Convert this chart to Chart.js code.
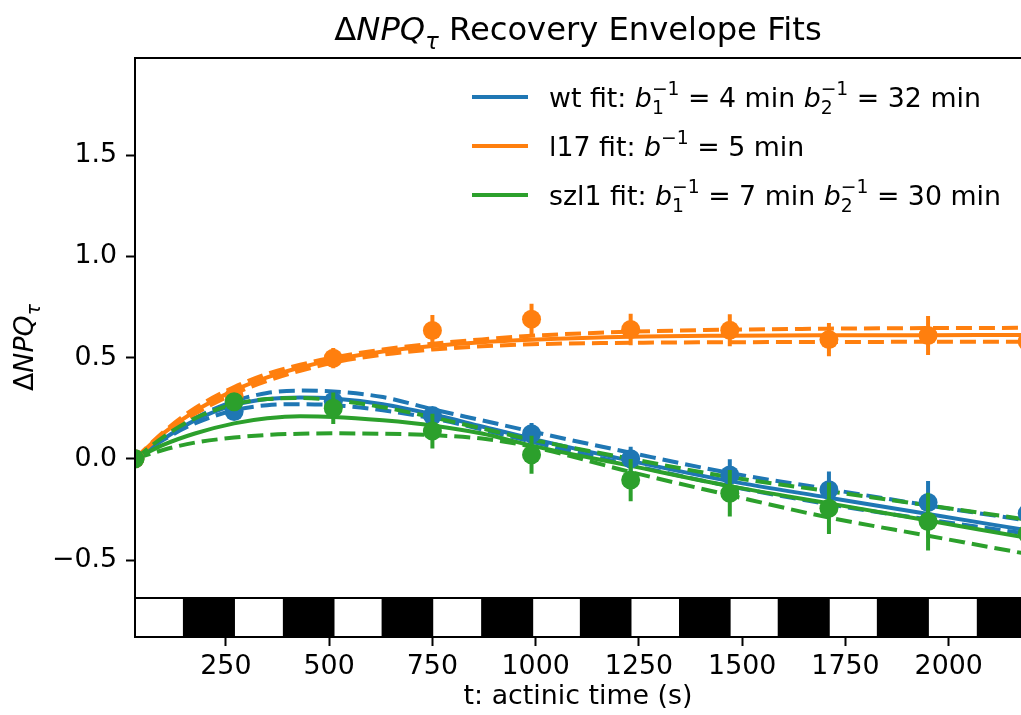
<!DOCTYPE html>
<html>
<head>
<meta charset="utf-8">
<script src="https://cdn.jsdelivr.net/npm/chart.js@4.4.1/dist/chart.umd.min.js"></script>
<style>
html, body { margin: 0; padding: 0; background: #fff; overflow: hidden; }
#wrap { width: 1021px; height: 715px; }
</style>
</head>
<body>
<div id="wrap"><canvas id="graphic"></canvas></div>
<script>
// measured points (t in s)
const tData = [30, 270, 510, 750, 990, 1230, 1470, 1710, 1950, 2190];
const wtMean = [0, 0.234, 0.285, 0.214, 0.124, 0.0, -0.08, -0.153, -0.216, -0.27];
const wtErr = [0, 0.03, 0.05, 0.04, 0.053, 0.06, 0.078, 0.09, 0.107, 0.11];
const l17Mean = [0, 0.31, 0.497, 0.634, 0.69, 0.639, 0.635, 0.589, 0.609, 0.58];
const l17Err = [0, 0.04, 0.05, 0.076, 0.076, 0.078, 0.079, 0.082, 0.096, 0.09];
const szl1Mean = [0, 0.282, 0.25, 0.137, 0.02, -0.105, -0.17, -0.244, -0.31, -0.37];
const szl1Err = [0, 0.03, 0.078, 0.086, 0.094, 0.104, 0.115, 0.127, 0.143, 0.15];

// fit curves and envelopes
const tFit = [30, 100, 175, 270, 350, 430, 510, 630, 750, 870, 990, 1230, 1470, 1710, 1950, 2190];
const wtFit = [0, 0.1, 0.19, 0.265, 0.295, 0.303, 0.298, 0.27, 0.22, 0.16, 0.1, -0.01, -0.11, -0.192, -0.273, -0.353];
const wtUpper = [0, 0.1, 0.2, 0.285, 0.325, 0.337, 0.333, 0.305, 0.245, 0.19, 0.135, 0.03, -0.07, -0.15, -0.23, -0.305];
const wtLower = [0, 0.095, 0.175, 0.24, 0.265, 0.27, 0.265, 0.24, 0.2, 0.145, 0.085, -0.03, -0.135, -0.225, -0.3, -0.37];
const l17Fit = [0, 0.128, 0.235, 0.338, 0.402, 0.451, 0.489, 0.53, 0.557, 0.576, 0.588, 0.603, 0.608, 0.61, 0.611, 0.612];
const l17Upper = [0, 0.135, 0.25, 0.355, 0.42, 0.465, 0.5, 0.54, 0.568, 0.59, 0.608, 0.628, 0.638, 0.643, 0.646, 0.647];
const l17Lower = [0, 0.122, 0.222, 0.322, 0.385, 0.435, 0.475, 0.515, 0.54, 0.556, 0.566, 0.573, 0.576, 0.577, 0.578, 0.578];
const szl1Fit = [0, 0.07, 0.125, 0.175, 0.2, 0.21, 0.207, 0.19, 0.165, 0.125, 0.065, -0.035, -0.135, -0.22, -0.305, -0.39];
const szl1Upper = [0, 0.11, 0.2, 0.27, 0.295, 0.3, 0.29, 0.255, 0.205, 0.15, 0.095, 0.0, -0.09, -0.16, -0.23, -0.3];
const szl1Lower = [0, 0.045, 0.08, 0.105, 0.118, 0.124, 0.126, 0.124, 0.117, 0.1, 0.06, -0.065, -0.18, -0.29, -0.38, -0.47];

// light / dark strip: switch times and level (1 = dark)
const stripTimes = [30, 146, 272, 388, 513, 627, 752, 868, 994, 1107, 1232, 1347, 1472, 1586, 1712, 1826, 1952, 2068, 2190];
const stripLevel = [0, 1, 0, 1, 0, 1, 0, 1, 0, 1, 0, 1, 0, 1, 0, 1, 0, 1, 1];

const xTicks = [250, 500, 750, 1000, 1250, 1500, 1750, 2000];
const yTicks = [-0.5, 0, 0.5, 1.0, 1.5];

const BLUE = "#1f77b4", ORANGE = "#ff7f0e", GREEN = "#2ca02c";
const FS = 26.8;

const titleParts = [{t: "\u0394"}, {t: "NPQ", it: true, sub: "\u03c4", subIt: true}, {t: " Recovery Envelope Fits"}];
const yLabelParts = [{t: "\u0394"}, {t: "NPQ", it: true, sub: "\u03c4", subIt: true}];
const legendRows = [
  {color: BLUE, parts: [{t: "wt fit: "}, {t: "b", it: true, sub: "1", sup: "\u22121"}, {t: " = 4 min "}, {t: "b", it: true, sub: "2", sup: "\u22121"}, {t: " = 32 min"}]},
  {color: ORANGE, parts: [{t: "l17 fit: "}, {t: "b", it: true, sup: "\u22121"}, {t: " = 5 min"}]},
  {color: GREEN, parts: [{t: "szl1 fit: "}, {t: "b", it: true, sub: "1", sup: "\u22121"}, {t: " = 7 min "}, {t: "b", it: true, sub: "2", sup: "\u22121"}, {t: " = 30 min"}]}
];

function font(size, it) {
  return (it ? "italic " : "") + size + "px 'DejaVu Sans'";
}

function richWidth(ctx, parts, size) {
  let w = 0;
  parts.forEach(p => {
    ctx.font = font(size, p.it);
    w += ctx.measureText(p.t).width;
    let s = 0;
    if (p.sub) { ctx.font = font(size * 0.7, p.subIt); s = Math.max(s, ctx.measureText(p.sub).width); }
    if (p.sup) { ctx.font = font(size * 0.7, false); s = Math.max(s, ctx.measureText(p.sup).width); }
    w += s;
  });
  return w;
}

function drawRich(ctx, parts, x, y, size) {
  let cx = x;
  ctx.textBaseline = "alphabetic";
  ctx.textAlign = "left";
  parts.forEach(p => {
    ctx.font = font(size, p.it);
    ctx.fillText(p.t, cx, y);
    cx += ctx.measureText(p.t).width;
    let s = 0;
    if (p.sub) {
      ctx.font = font(size * 0.7, p.subIt);
      ctx.fillText(p.sub, cx, y + size * 0.27);
      s = Math.max(s, ctx.measureText(p.sub).width);
    }
    if (p.sup) {
      ctx.font = font(size * 0.7, false);
      ctx.fillText(p.sup, cx, y - size * 0.42);
      s = Math.max(s, ctx.measureText(p.sup).width);
    }
    cx += s;
  });
}

function fitSet(label, values, color, dashed, order) {
  return {
    type: "line", label: label,
    data: tFit.map((t, i) => ({x: t, y: values[i]})),
    borderColor: color, borderWidth: 4, borderDash: dashed ? [16, 7] : [],
    pointRadius: 0, cubicInterpolationMode: "monotone", fill: false,
    yAxisID: "y", order: order
  };
}

function errSet(values, errs, color, order) {
  const pts = [];
  tData.forEach((t, i) => {
    pts.push({x: t, y: values[i] - errs[i]}, {x: t, y: values[i] + errs[i]}, {x: t, y: null});
  });
  return {
    type: "line", data: pts, borderColor: color, borderWidth: 4,
    pointRadius: 0, spanGaps: false, fill: false, yAxisID: "y", order: order,
    clip: {left: 0, top: 0, right: 10, bottom: 0}
  };
}

function markSet(values, color, order) {
  return {
    type: "line", data: tData.map((t, i) => ({x: t, y: values[i]})), showLine: false,
    pointRadius: 9.5, pointBackgroundColor: color, pointBorderWidth: 0,
    yAxisID: "y", order: order,
    clip: {left: 0, top: 0, right: 10, bottom: 0}
  };
}

const framePlugin = {
  id: "frame",
  afterDatasetsDraw(chart) {
    const ctx = chart.ctx, ca = chart.chartArea, ym = chart.scales.y;
    ctx.save();
    ctx.strokeStyle = "#000";
    ctx.lineWidth = 2;
    ctx.beginPath();
    ctx.moveTo(ca.left, Math.round(ym.top));
    ctx.lineTo(ca.right + 5, Math.round(ym.top));
    ctx.moveTo(ca.left, Math.round(ym.bottom));
    ctx.lineTo(ca.right + 5, Math.round(ym.bottom));
    ctx.moveTo(ca.left, ca.bottom);
    ctx.lineTo(ca.right + 5, ca.bottom);
    ctx.moveTo(Math.round(ca.left), ym.top - 1);
    ctx.lineTo(Math.round(ca.left), ca.bottom + 1);
    ctx.stroke();
    ctx.restore();
  },
  afterDraw(chart) {
    const ctx = chart.ctx, ca = chart.chartArea, ym = chart.scales.y;
    ctx.save();
    ctx.fillStyle = "#000";
    // title
    const tSize = 32.2;
    const tw = richWidth(ctx, titleParts, tSize);
    drawRich(ctx, titleParts, (ca.left + ca.right) / 2 - tw / 2, 40, tSize);
    // y label
    const lw = richWidth(ctx, yLabelParts, FS);
    ctx.save();
    ctx.translate(33, (ym.top + ca.bottom) / 2);
    ctx.rotate(-Math.PI / 2);
    drawRich(ctx, yLabelParts, -lw / 2, 0, FS);
    ctx.restore();
    // legend
    legendRows.forEach((row, i) => {
      const ly = 97 + i * 49;
      ctx.strokeStyle = row.color;
      ctx.lineWidth = 4;
      ctx.beginPath();
      ctx.moveTo(472, ly);
      ctx.lineTo(528, ly);
      ctx.stroke();
      ctx.fillStyle = "#000";
      drawRich(ctx, row.parts, 549, ly + 9.5, FS);
    });
    ctx.restore();
  }
};

const tickFont = {family: "DejaVu Sans", size: FS};

const ctx = document.getElementById("graphic").getContext("2d");
window.currentChart = new Chart(ctx, {
  data: {
    datasets: [
      {
        type: "line",
        data: stripTimes.map((t, i) => ({x: t, y: stripLevel[i]})),
        stepped: true, fill: "origin", backgroundColor: "#000",
        borderWidth: 0, borderColor: "rgba(0,0,0,0)", pointRadius: 0,
        yAxisID: "yStrip", order: 100
      },
      fitSet("wt fit", wtFit, BLUE, false, 60),
      fitSet("wt upper", wtUpper, BLUE, true, 61),
      fitSet("wt lower", wtLower, BLUE, true, 62),
      fitSet("l17 fit", l17Fit, ORANGE, false, 50),
      fitSet("l17 upper", l17Upper, ORANGE, true, 51),
      fitSet("l17 lower", l17Lower, ORANGE, true, 52),
      fitSet("szl1 fit", szl1Fit, GREEN, false, 40),
      fitSet("szl1 upper", szl1Upper, GREEN, true, 41),
      fitSet("szl1 lower", szl1Lower, GREEN, true, 42),
      errSet(wtMean, wtErr, BLUE, 31),
      markSet(wtMean, BLUE, 30),
      errSet(l17Mean, l17Err, ORANGE, 25),
      markSet(l17Mean, ORANGE, 24),
      errSet(szl1Mean, szl1Err, GREEN, 21),
      markSet(szl1Mean, GREEN, 20)
    ]
  },
  options: {
    responsive: true,
    maintainAspectRatio: false,
    animation: false,
    events: [],
    layout: {autoPadding: false, padding: {top: 58, left: 0, right: 0, bottom: 0}},
    plugins: {
      legend: {display: false},
      title: {display: false},
      tooltip: {enabled: false}
    },
    scales: {
      x: {
        type: "linear", position: "bottom", min: 30, max: 2175,
        afterBuildTicks: s => { s.ticks = xTicks.map(v => ({value: v})); },
        afterFit: s => { s.height = 78; },
        ticks: {font: tickFont, color: "#000", padding: 5, maxRotation: 0, autoSkip: false, callback: v => String(v)},
        grid: {display: true, drawOnChartArea: false, drawTicks: true, tickLength: 9, tickWidth: 2, tickColor: "#000"},
        border: {display: true, color: "#000", width: 2},
        title: {display: true, text: "t: actinic time (s)", font: tickFont, color: "#000", padding: {top: 0, bottom: 2}}
      },
      y: {
        type: "linear", position: "left", stack: "v", stackWeight: 539.5, weight: 1,
        min: -0.685, max: 1.98,
        afterBuildTicks: s => { s.ticks = yTicks.map(v => ({value: v})); },
        afterFit: s => { s.width = 135; },
        ticks: {font: tickFont, color: "#000", padding: 9, callback: v => v.toFixed(1).replace("-", "\u2212")},
        grid: {display: true, drawOnChartArea: false, drawTicks: true, tickLength: 9, tickWidth: 2, tickColor: "#000"},
        border: {display: true, color: "#000", width: 2}
      },
      yStrip: {
        type: "linear", position: "left", stack: "v", stackWeight: 39.5, weight: 0,
        min: 0, max: 1,
        afterFit: s => { s.width = 135; },
        ticks: {display: false},
        grid: {display: false},
        border: {display: true, color: "#000", width: 2}
      }
    }
  },
  plugins: [framePlugin]
});
</script>
</body>
</html>
